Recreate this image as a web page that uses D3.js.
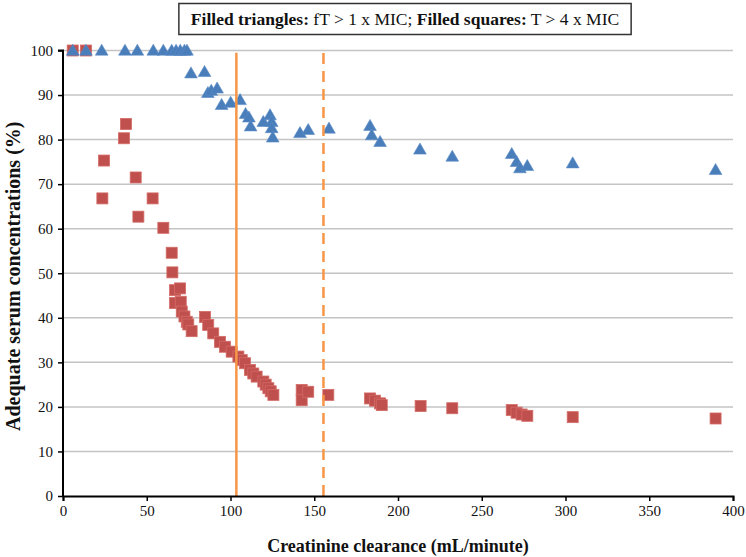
<!DOCTYPE html>
<html>
<head>
<meta charset="utf-8">
<script src="https://cdn.jsdelivr.net/npm/d3@7"></script>
<style>
  html, body { margin: 0; padding: 0; background: #fff; }
  svg { display: block; }
</style>
</head>
<body>
<script>
// ---- data ----
const triX = [5.8, 13.7, 23.1, 37, 44.4, 53.9, 59.9, 64.9, 67.5, 70, 72.5, 74,
  76.4, 84.5, 86.5, 88.5, 92, 94.7, 100.1, 105.7, 109, 111, 112, 119.6, 123.6, 124.6, 124.6, 125.2,
  141.5, 146.4, 158.8, 183.3, 184.3, 189.3, 213.1, 232.4, 267.9, 270.8, 272.8, 277.2, 304.3, 389.6];
const triY = [100, 100, 100, 100, 100, 100, 100, 100, 100, 100, 100, 100,
  94.9, 95.2, 90.5, 91, 91.5, 87.8, 88.3, 88.9, 85.8, 85, 83, 84, 85.5, 84, 82.6, 80.5,
  81.5, 82.2, 82.5, 83.1, 81, 79.5, 77.8, 76.2, 76.8, 75, 73.6, 74.1, 74.7, 73.2];

const sqX = [5.8, 13.7, 23.5, 24.5, 36.4, 37.6, 43.4, 45, 53.5, 59.9, 64.9, 65.3,
  66.9, 69.9, 66.9, 70.3, 70.9, 72.5, 73.9, 74.8, 76.8,
  84.8, 86.7, 89.7, 93.7, 96.7, 100.7, 104.7, 106.7, 108.7, 111.6, 113.6, 115.6, 119.6, 121, 122.6, 124, 125.6,
  142.5, 142.5, 146.4, 158.4, 183.3, 186.3, 189.3, 190.3, 213.5, 232.4, 267.9, 270.8, 273.8, 277.2, 304.3, 389.6];
const sqY = [100, 100, 66.8, 75.3, 80.3, 83.5, 71.5, 62.7, 66.8, 60.2, 54.6, 50.2,
  46.2, 46.6, 43.3, 43.6, 41.4, 40.3, 39.1, 38.5, 37.0,
  40.2, 38.4, 36.5, 34.6, 33.5, 32.4, 31.3, 30.5, 29.8, 28.3, 27.5, 26.8, 25.7, 25, 24.2, 23.5, 22.7,
  23.8, 21.5, 23.4, 22.7, 21.9, 21.4, 20.8, 20.4, 20.2, 19.7, 19.3, 18.7, 18.3, 18.0, 17.7, 17.4];

const refLines = [103.5, 155.5]; // solid, dashed
const xTicks = [0, 50, 100, 150, 200, 250, 300, 350, 400];
const yTicks = [0, 10, 20, 30, 40, 50, 60, 70, 80, 90, 100];

const W = 746, H = 557;
const pLeft = 63, pRight = 733, pTop = 50.5, pBottom = 496;

const svg = d3.select("body").append("svg").attr("width", W).attr("height", H);

const x = d3.scaleLinear().domain([0, 400]).range([pLeft, pRight]);
const y = d3.scaleLinear().domain([0, 100]).range([pBottom, pTop]);

// gridlines
svg.append("g").selectAll("line").data(yTicks.filter(d => d > 0)).join("line")
  .attr("x1", pLeft).attr("x2", pRight)
  .attr("y1", d => y(d)).attr("y2", d => y(d))
  .attr("stroke", "#c4c4c4").attr("stroke-width", 1.5);

// squares
const sq = 11;
svg.append("g").selectAll("rect").data(sqX.map((d, i) => [d, sqY[i]])).join("rect")
  .attr("x", d => x(d[0]) - sq / 2).attr("y", d => y(d[1]) - sq / 2)
  .attr("width", sq).attr("height", sq)
  .attr("fill", "#c0504d").attr("stroke", "#d46b67").attr("stroke-width", 0.8);

// triangles
const tri = d3.symbol().type(d3.symbolTriangle).size(70);
svg.append("g").selectAll("path").data(triX.map((d, i) => [d, triY[i]])).join("path")
  .attr("d", tri)
  .attr("transform", d => `translate(${x(d[0])},${y(d[1]) + 1})`)
  .attr("fill", "#4a7ebb").attr("stroke", "#5b8cc6").attr("stroke-width", 0.6);

// reference lines
svg.append("g").selectAll("line").data(refLines).join("line")
  .attr("x1", d => x(d)).attr("x2", d => x(d))
  .attr("y1", y(0)).attr("y2", y(99.5))
  .attr("stroke", "#f79646").attr("stroke-width", 2.5)
  .attr("stroke-dasharray", (d, i) => i === 1 ? "11,7" : null);

// axes
const fontTick = "'Liberation Serif', 'Times New Roman', serif";
const yAxis = svg.append("g").attr("transform", `translate(${pLeft},0)`)
  .call(d3.axisLeft(y).tickValues(yTicks).tickSize(5).tickPadding(5));
const xAxis = svg.append("g").attr("transform", `translate(0,${pBottom})`)
  .call(d3.axisBottom(x).tickValues(xTicks).tickSize(5).tickPadding(4));
[yAxis, xAxis].forEach(a => {
  a.selectAll(".domain").attr("stroke", "#000").attr("stroke-width", 2);
  a.selectAll(".tick line").attr("stroke", "#000").attr("stroke-width", 1.5);
  a.selectAll(".tick text").attr("font-family", fontTick).attr("font-size", 15).attr("fill", "#111");
});
yAxis.select(".domain").attr("d", `M-5,${y(100)}H0V${y(0)}`);

// axis titles
svg.append("text")
  .attr("transform", `translate(${20},${(pTop + pBottom) / 2 + 3}) rotate(-90)`)
  .attr("text-anchor", "middle")
  .attr("font-family", fontTick).attr("font-weight", "bold").attr("font-size", 20)
  .attr("fill", "#111")
  .text("Adequate serum concentrations (%)");

svg.append("text")
  .attr("x", (pLeft + pRight) / 2).attr("y", 552)
  .attr("text-anchor", "middle")
  .attr("font-family", fontTick).attr("font-weight", "bold").attr("font-size", 18)
  .attr("fill", "#111")
  .text("Creatinine clearance (mL/minute)");

// title box
const tb = svg.append("g");
const t = tb.append("text")
  .attr("x", 405).attr("y", 25)
  .attr("text-anchor", "middle")
  .attr("font-family", fontTick).attr("font-size", 17.5).attr("fill", "#111");
t.append("tspan").attr("font-weight", "bold").text("Filled triangles:");
t.append("tspan").text(" fT > 1 x MIC; ");
t.append("tspan").attr("font-weight", "bold").text("Filled squares:");
t.append("tspan").text(" T > 4 x MIC");
const bb = t.node().getBBox();
tb.insert("rect", "text")
  .attr("x", bb.x - 12).attr("y", 3.5)
  .attr("width", bb.width + 24).attr("height", 31)
  .attr("fill", "#fff").attr("stroke", "#333").attr("stroke-width", 1.5);
</script>
</body>
</html>
